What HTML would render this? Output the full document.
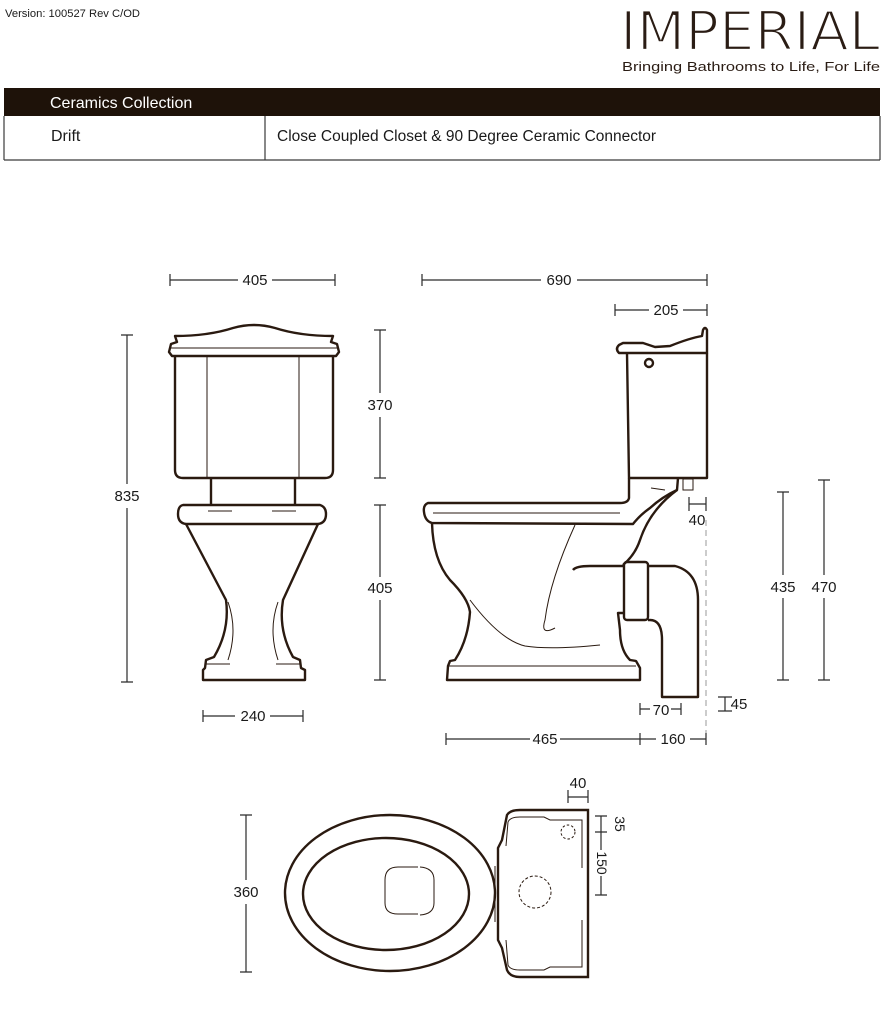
<!DOCTYPE html>
<html><head><meta charset="utf-8"><style>
html,body{margin:0;padding:0;background:#fff;width:894px;height:1024px;overflow:hidden}
svg{display:block}
text{font-family:"Liberation Sans",sans-serif;fill:#1a1a1a}
</style></head><body>
<svg width="894" height="1024" viewBox="0 0 894 1024" xmlns="http://www.w3.org/2000/svg">
<text x="5" y="17" font-size="11" textLength="135" lengthAdjust="spacingAndGlyphs">Version: 100527 Rev C/OD</text>
<text x="620" y="50" font-size="54" textLength="260" lengthAdjust="spacingAndGlyphs" style="font-family:'DejaVu Sans',sans-serif;fill:#2a1c14;stroke:#fff;stroke-width:2.2px;">IMPERIAL</text>
<text x="622" y="71" font-size="13" textLength="258" lengthAdjust="spacingAndGlyphs" style="fill:#2a1c14">Bringing Bathrooms to Life, For Life</text>
<rect x="4" y="88" width="876" height="28" fill="#1e1209"/>
<text x="50" y="108" font-size="16" style="fill:#fff">Ceramics Collection</text>
<g stroke="#3a3a3a" stroke-width="1.2" fill="none">
<line x1="4" y1="116" x2="4" y2="160"/><line x1="880" y1="116" x2="880" y2="160"/>
<line x1="4" y1="160" x2="880" y2="160"/><line x1="265" y1="116" x2="265" y2="160"/>
</g>
<text x="51" y="141" font-size="16">Drift</text>
<text x="277" y="141" font-size="15.5">Close Coupled Closet &amp; 90 Degree Ceramic Connector</text>

<!-- FRONT VIEW -->
<g stroke="#2a1a10" stroke-width="2.4" fill="none" stroke-linejoin="round">
<path d="M175,336 L177,342 L171,344 L169,352 L172,356 L336,356 L339,352 L337,344 L331,342 L333,336 Q300,336 275,328 Q254,322 233,328 Q208,336 175,336 Z"/>
<path d="M175,356 L175,470 Q175,478 183,478 L325,478 Q333,478 333,470 L333,356"/>
<line x1="211" y1="478" x2="211" y2="505"/><line x1="295" y1="478" x2="295" y2="505"/>
<path d="M183,505 L320,505 Q326,507 326,514 Q326,523 318,524 L186,524 Q178,523 178,514 Q178,506 183,505 Z"/>
<path d="M186,524 L226,600 Q230,630 214,657 L206,660 L205,668 L203,670 L203,680 L305,680 L305,670 L301,668 L300,660 L293,657 Q278,630 283,600 L318,524"/>
</g>
<g stroke="#2a1a10" stroke-width="1" fill="none">
<line x1="207" y1="356" x2="207" y2="478"/><line x1="299" y1="356" x2="299" y2="478"/>
<line x1="171" y1="348" x2="337" y2="348"/>
<path d="M228,602 Q238,630 228,660"/><path d="M278,602 Q268,630 278,660"/>
<line x1="206" y1="664" x2="230" y2="664"/><line x1="276" y1="664" x2="300" y2="664"/>
<line x1="208" y1="511" x2="232" y2="511"/><line x1="272" y1="511" x2="296" y2="511"/>
</g>

<!-- SIDE VIEW -->
<g stroke="#2a1a10" stroke-width="2.4" fill="none" stroke-linejoin="round">
<path d="M619,345 L623,343 L643,343 L655,347 L670,346 Q690,338 702,336 L703,330 Q705,326 707,330 L707,353 L619,353 Q615,349 619,345 Z"/>
<path d="M627,353 L629,478 L707,478 L707,353"/>
<circle cx="649" cy="363" r="4"/>
<path d="M629,478 L629,498 Q628,503 620,503 L428,503 Q423,505 424,512 Q425,521 432,523 L633,524 Q640,515 650,508 Q662,497 677,490 L678,478"/>
<path d="M432,523 Q433,560 450,580 Q468,598 470,612 Q468,640 455,660 L450,661 L448,666 L447,680 L640,680 L640,668 L636,661 L630,660 Q620,650 620,630 L618,613 L624,613"/>
<path d="M677,490 Q650,510 640,540 Q635,555 623,565"/>
<path d="M573,570 Q576,566 590,566 L623,566"/>
<rect x="624" y="562" width="24" height="58" rx="3"/>
<path d="M648,566 L675,566 Q698,572 698,600 L698,697 L662,697 L662,640 Q662,620 650,620 L648,620"/>
</g>
<g stroke="#2a1a10" stroke-width="1" fill="none">
<rect x="683" y="479" width="10" height="11"/>
<line x1="433" y1="513" x2="620" y2="513"/>
<path d="M575,525 Q550,580 545,620 Q540,636 555,628"/>
<path d="M470,600 Q500,640 525,646 Q550,650 600,645"/>
<line x1="447" y1="666" x2="636" y2="666"/>
<path d="M651,488 L665,490"/>
</g>
<line x1="706" y1="520" x2="706" y2="745" stroke="#999" stroke-width="1" stroke-dasharray="6,4"/>

<!-- PLAN VIEW -->
<g stroke="#2a1a10" stroke-width="2.4" fill="none">
<ellipse cx="390" cy="893" rx="105" ry="78"/>
<ellipse cx="386" cy="894" rx="83" ry="56"/>
<path d="M502,840 L507,815 Q510,810 520,810 L588,810 L588,977 L520,977 Q510,977 507,970 L502,948 L498,940 L498,848 Z"/>
</g>
<g stroke="#2a1a10" stroke-width="1" fill="none">
<path d="M418,867 L398,867 Q385,867 385,880 L385,903 Q385,914 398,914 L418,914"/>
<path d="M420,867 Q434,868 434,880 L434,903 Q434,914 420,915"/>
<path d="M506,846 L508,822 Q510,817 520,817 L544,817 L550,820 L582,820 L582,868"/>
<path d="M506,940 L508,965 Q510,970 520,970 L544,970 L550,967 L582,967 L582,920"/>
<line x1="495" y1="866" x2="495" y2="922"/>
<circle cx="568" cy="832" r="7" stroke-dasharray="2.5,2"/>
<circle cx="535" cy="892" r="16" stroke-dasharray="3,2"/>
</g>

<!-- DIMENSIONS -->
<g stroke="#2a2a2a" stroke-width="1.2" fill="none">
<path d="M170,274V286M170,280H238M272,280H335M335,274V286"/>
<path d="M422,274V286M422,280H541M577,280H707M707,274V286"/>
<path d="M615,304V316M615,310H649M683,310H707M707,304V316"/>
<path d="M374,330H386M380,330V393M380,417V478M374,478H386"/>
<path d="M374,505H386M380,505V577M380,600V680M374,680H386"/>
<path d="M121,335H133M127,335V484M127,508V682M121,682H133"/>
<path d="M203,710V722M203,716H235M270,716H303M303,710V722"/>
<path d="M777,492H789M783,492V575M783,598V680M777,680H789"/>
<path d="M818,480H830M824,480V575M824,598V680M818,680H830"/>
<path d="M689,497V511M689,504H706M706,497V511"/>
<path d="M718,697H732M725,697V711M718,711H732"/>
<path d="M640,703V715M640,709H650M671,709H681M681,703V715"/>
<path d="M446,733V745M446,739H530M560,739H640M640,733V745M640,739H656M690,739H706M706,733V745"/>
<path d="M240,815H252M246,815V880M246,904V972M240,972H252"/>
<path d="M568,790V803M568,797H588M588,790V803"/>
<path d="M595,816H607M601,816V832M595,832H607M601,832V850M601,876V895M595,895H607"/>
</g>
<g font-size="15" text-anchor="middle">
<text x="255" y="285">405</text>
<text x="559" y="285">690</text>
<text x="666" y="315">205</text>
<text x="380" y="410">370</text>
<text x="380" y="593">405</text>
<text x="127" y="501">835</text>
<text x="253" y="721">240</text>
<text x="783" y="592">435</text>
<text x="824" y="592">470</text>
<text x="697" y="525">40</text>
<text x="739" y="709">45</text>
<text x="661" y="715">70</text>
<text x="545" y="744">465</text>
<text x="673" y="744">160</text>
<text x="246" y="897">360</text>
<text x="578" y="788">40</text>
<text transform="translate(615,824) rotate(90)" font-size="14">35</text>
<text transform="translate(597,863) rotate(90)" font-size="14">150</text>
</g>
</svg>
</body></html>
